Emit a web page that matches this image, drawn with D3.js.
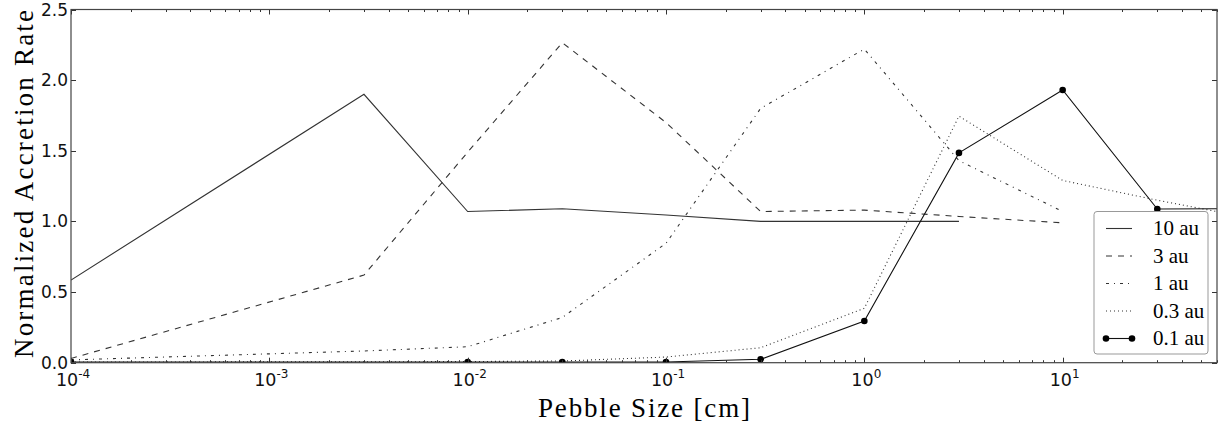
<!DOCTYPE html>
<html>
<head>
<meta charset="UTF-8">
<script src="https://cdn.jsdelivr.net/npm/d3@7/dist/d3.min.js"></script>
</head>
<body style="margin:0">
<svg id="chart" width="1225" height="428"></svg>
<script>
    // data: pebble size in cm, rate normalized
    const size10 = [1e-4, 3e-3, 1e-2, 3e-2, 0.1, 0.3, 1, 3];
    const rate10 = [0.585, 1.90, 1.07, 1.09, 1.045, 1.0, 1.0, 1.0];

    const size3 = [1e-4, 3e-3, 1e-2, 3e-2, 0.1, 0.3, 1, 3, 10];
    const rate3 = [0.03, 0.62, 1.49, 2.265, 1.70, 1.07, 1.08, 1.035, 0.99];

    const size1 = [1e-4, 3e-3, 1e-2, 3e-2, 0.1, 0.3, 1, 3, 10];
    const rate1 = [0.02, 0.083, 0.113, 0.32, 0.845, 1.80, 2.22, 1.43, 1.07];

    const size03 = [1e-4, 3e-3, 1e-2, 3e-2, 0.1, 0.3, 1, 3, 10, 30, 100];
    const rate03 = [0.005, 0.006, 0.008, 0.012, 0.04, 0.106, 0.385, 1.745, 1.29, 1.15, 1.01];

    const size01 = [1e-4, 1e-2, 3e-2, 0.1, 0.3, 1, 3, 10, 30, 100];
    const rate01 = [0.005, 0.005, 0.005, 0.005, 0.024, 0.295, 1.485, 1.93, 1.088, 1.09];

    const yTicks = [0, 0.5, 1.0, 1.5, 2.0, 2.5];
    const xMajor = [-4, -3, -2, -1, 0, 1];

    const series = [
        {name: '10 au', xs: size10, ys: rate10, dash: null, dots: false, color: '#333'},
        {name: '3 au', xs: size3, ys: rate3, dash: '6,6', dots: false, color: '#333'},
        {name: '1 au', xs: size1, ys: rate1, dash: '3,5,1,5', dots: false, color: '#333'},
        {name: '0.3 au', xs: size03, ys: rate03, dash: '1,3', dots: false, color: '#333'},
        {name: '0.1 au', xs: size01, ys: rate01, dash: null, dots: true, color: '#111'}
    ];

    const SERIF = "'Liberation Serif'";
    const SANS = "'DejaVu Sans'";

    const pl = 71, pr = 1217, pt = 9.5, pb = 362.7;
    const svg = d3.select('#chart');

    const x = d3.scaleLog().domain([1e-4, 60]).range([pl, pr]);
    const y = d3.scaleLinear().domain([0, 2.5]).range([pb, pt]);

    svg.append('defs').append('clipPath').attr('id', 'clip')
        .append('rect').attr('x', pl).attr('y', pt)
        .attr('width', pr - pl).attr('height', pb - pt);

    const plot = svg.append('g').attr('clip-path', 'url(#clip)');
    const line = d3.line().x(d => x(d[0])).y(d => y(d[1]));

    series.forEach(function (s) {
        const pts = s.xs.map((v, i) => [v, s.ys[i]]);
        plot.append('path')
            .attr('d', line(pts))
            .attr('fill', 'none')
            .attr('stroke', s.color)
            .attr('stroke-width', 1.1)
            .attr('stroke-dasharray', s.dash);
        if (s.dots) {
            plot.selectAll(null).data(pts).enter().append('circle')
                .attr('cx', d => x(d[0])).attr('cy', d => y(d[1]))
                .attr('r', 3.3).attr('fill', '#000');
        }
    });

    // ticks, all pointing inward like the old matplotlib style
    const allX = x.ticks().filter(v => v >= 1e-4 && v <= 60);
    const isMajor = v => Math.abs(Math.log10(v) - Math.round(Math.log10(v))) < 1e-9;
    const minorX = allX.filter(v => !isMajor(v));
    const majorX = xMajor.map(p => Math.pow(10, p));

    const tickG = svg.append('g').attr('stroke', '#333').attr('stroke-width', 1);
    minorX.forEach(function (v) {
        const px = Math.round(x(v)) + 0.5;
        tickG.append('line').attr('x1', px).attr('x2', px).attr('y1', pb).attr('y2', pb - 2.5);
        tickG.append('line').attr('x1', px).attr('x2', px).attr('y1', pt).attr('y2', pt + 2.5);
    });
    majorX.forEach(function (v) {
        const px = Math.round(x(v)) + 0.5;
        tickG.append('line').attr('x1', px).attr('x2', px).attr('y1', pb).attr('y2', pb - 5);
        tickG.append('line').attr('x1', px).attr('x2', px).attr('y1', pt).attr('y2', pt + 5);
    });
    yTicks.forEach(function (v) {
        const py = Math.round(y(v)) + 0.5;
        tickG.append('line').attr('x1', pl).attr('x2', pl + 5).attr('y1', py).attr('y2', py);
        tickG.append('line').attr('x1', pr).attr('x2', pr - 5).attr('y1', py).attr('y2', py);
    });

    // frame
    svg.append('rect').attr('x', pl).attr('y', pt)
        .attr('width', pr - pl).attr('height', pb - pt)
        .attr('fill', 'none').attr('stroke', '#444').attr('stroke-width', 1.2);

    // y tick labels
    svg.append('g').selectAll('text').data(yTicks).enter().append('text')
        .attr('x', pl - 3).attr('y', d => y(d) + 6)
        .style('font-family', SANS)
        .attr('text-anchor', 'end')
        .attr('font-size', 17)
        .attr('fill', '#111')
        .text(d => d3.format('.1f')(d));

    // x tick labels with superscript exponents
    const xl = svg.append('g').selectAll('text').data(xMajor).enter().append('text')
        .attr('x', d => x(Math.pow(10, d)) + 2)
        .attr('y', pb + 23)
        .style('font-family', SANS)
        .attr('text-anchor', 'middle')
        .attr('font-size', 17.5)
        .attr('fill', '#111');
    xl.append('tspan').text('10');
    xl.append('tspan').attr('dy', -8).attr('font-size', 12).text(d => d < 0 ? '-' + Math.abs(d) : d);

    // axis titles
    svg.append('text')
        .attr('x', 538).attr('y', 417)
        .style('font-family', SERIF)
        .attr('font-size', 27)
        .attr('textLength', 212).attr('lengthAdjust', 'spacing')
        .text('Pebble Size [cm]');

    svg.append('text')
        .attr('transform', 'translate(33,358) rotate(-90)')
        .style('font-family', SERIF)
        .attr('font-size', 27)
        .attr('textLength', 348).attr('lengthAdjust', 'spacing')
        .text('Normalized Accretion Rate');

    // legend
    const lg = svg.append('g');
    lg.append('rect').attr('x', 1094).attr('y', 211.5).attr('width', 114).attr('height', 142.5)
        .attr('rx', 3).attr('fill', '#fff').attr('stroke', '#999').attr('stroke-width', 1);
    series.forEach(function (s, i) {
        const ly = 228.5 + i * 27.5;
        lg.append('line').attr('x1', 1106).attr('x2', 1132).attr('y1', ly).attr('y2', ly)
            .attr('stroke', s.color).attr('stroke-width', 1.1)
            .attr('stroke-dasharray', s.dash);
        if (s.dots) {
            lg.append('circle').attr('cx', 1106).attr('cy', ly).attr('r', 3.3).attr('fill', '#000');
            lg.append('circle').attr('cx', 1132).attr('cy', ly).attr('r', 3.3).attr('fill', '#000');
        }
        lg.append('text').attr('x', 1153).attr('y', ly + 6.5)
            .style('font-family', SERIF)
            .attr('font-size', 21)
            .text(s.name);
    });
</script>
</body>
</html>
